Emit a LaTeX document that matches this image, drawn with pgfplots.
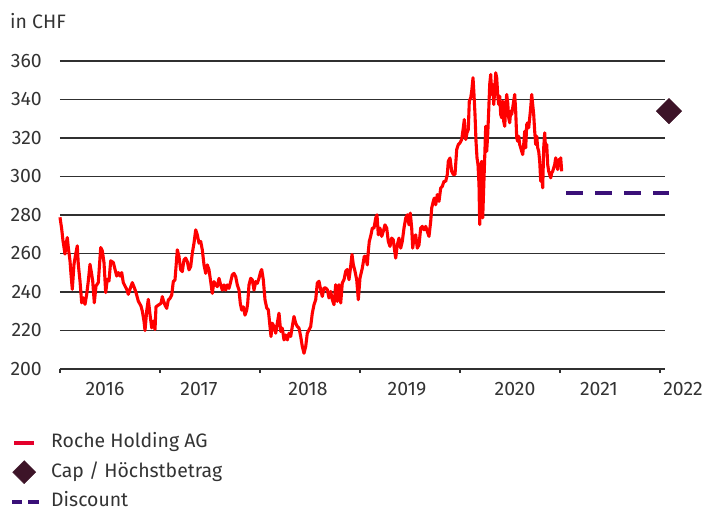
\documentclass[border=0pt]{standalone}
\usepackage{pgfplots}
\pgfplotsset{compat=1.18}
\usepackage{fontspec}
\setmainfont{Fira Sans}
\definecolor{txt}{HTML}{333333}
\definecolor{gridc}{HTML}{303030}
\definecolor{roche}{HTML}{FF0000}
\definecolor{rochelegend}{HTML}{E4002B}
\definecolor{capc}{HTML}{3D1428}
\definecolor{disc}{HTML}{3A1078}
\begin{document}
\begin{tikzpicture}
\useasboundingbox (-60bp,-144bp) rectangle (646bp,369bp);
\begin{axis}[
  at={(0,0)}, anchor=south west,
  scale only axis, width=605bp, height=308bp,
  xmin=2016, xmax=2022.05, ymin=200, ymax=360,
  clip=false,
  font=\fontsize{19.5}{22}\selectfont\color{txt},
  /pgf/number format/assume math mode=true,
  axis x line*=bottom, axis y line*=left,
  y axis line style={draw=none},
  x axis line style={draw=gridc, line width=1.1bp},
  ytick={200,220,...,360},
  ymajorgrids=true,
  grid style={draw=gridc, line width=1.1bp},
  ytick style={draw=none},
  yticklabel style={inner sep=0pt, xshift=-18bp, anchor=east},
  xtick={2016.45,2017.39,2018.48,2019.47,2020.55,2021.39},
  xticklabels={2016,2017,2018,2019,2020,2021},
  xticklabel style={inner sep=0pt, yshift=-13bp, anchor=north},
  tick align=outside,
  major tick length=0bp,
  extra x ticks={2016,2017,2018,2019,2020,2021,2022},
  extra x tick labels={},
  extra x tick style={major tick length=4bp, tick style={draw=gridc, line width=1.1bp}, grid=none},
  legend style={at={(-0.0826,-0.212)}, anchor=north west, draw=none, fill=none, inner sep=0pt,
    row sep=10bp, font=\fontsize{19.5}{22}\selectfont\color{txt},
    nodes={inner sep=0pt, text height=13bp, text depth=3bp},
    /tikz/every odd column/.append style={column sep=10bp}},
  legend cell align=left,
]
\addplot[roche, line width=3.1bp, line join=round,
  legend image code/.code={\path[draw=none,fill=none] (0bp,-8bp) rectangle (27bp,8bp); \draw[rochelegend, line width=4bp] (2bp,0bp) -- (22bp,0bp);}]
coordinates {
(2016.000,278.8) (2016.017,272.7) (2016.030,266.6) (2016.050,259.7) (2016.060,264.9) (2016.073,268.3)
(2016.083,263.1) (2016.100,256.2) (2016.110,249.2) (2016.123,241.4) (2016.140,254.4) (2016.157,259.7)
(2016.173,264.0) (2016.183,254.4) (2016.200,245.7) (2016.217,234.4) (2016.233,237.0) (2016.250,233.6)
(2016.267,238.8) (2016.283,245.7) (2016.300,254.4) (2016.317,249.2) (2016.327,245.7) (2016.343,234.4)
(2016.360,243.1) (2016.383,244.9) (2016.407,263.1) (2016.423,261.4) (2016.440,255.3) (2016.457,239.7)
(2016.473,246.6) (2016.490,245.7) (2016.507,256.2) (2016.533,255.3) (2016.550,251.8) (2016.567,248.3)
(2016.583,250.1) (2016.600,248.3) (2016.617,250.1) (2016.633,244.9) (2016.650,243.1) (2016.667,241.4)
(2016.683,238.8) (2016.700,241.4) (2016.723,244.9) (2016.743,242.3) (2016.760,239.7) (2016.783,235.3)
(2016.810,232.7) (2016.823,230.1) (2016.840,224.9) (2016.850,220.0) (2016.867,230.1) (2016.883,236.2)
(2016.900,228.4) (2016.917,221.4) (2016.933,224.9) (2016.950,220.5) (2016.960,232.3) (2016.983,233.2)
(2017.010,234.1) (2017.023,237.6) (2017.033,235.8) (2017.050,233.2) (2017.067,231.5) (2017.083,235.8)
(2017.100,236.7) (2017.117,238.4) (2017.133,245.4) (2017.150,246.3) (2017.163,255.0) (2017.173,261.9)
(2017.190,258.4) (2017.207,251.5) (2017.223,250.6) (2017.240,256.7) (2017.257,257.6) (2017.273,255.8)
(2017.290,251.5) (2017.307,253.2) (2017.323,260.2) (2017.340,265.4) (2017.357,272.3) (2017.373,269.7)
(2017.390,265.4) (2017.407,266.3) (2017.423,261.9) (2017.440,254.1) (2017.457,249.7) (2017.473,254.1)
(2017.490,251.5) (2017.507,245.4) (2017.523,239.3) (2017.540,245.4) (2017.557,243.7) (2017.573,242.8)
(2017.590,247.1) (2017.607,243.7) (2017.623,241.0) (2017.640,243.7) (2017.657,241.0) (2017.673,243.7)
(2017.690,241.9) (2017.707,245.4) (2017.723,248.9) (2017.740,249.7) (2017.757,248.0) (2017.773,243.7)
(2017.790,241.0) (2017.803,234.1) (2017.817,230.6) (2017.833,232.3) (2017.850,228.0) (2017.867,230.6)
(2017.877,234.1) (2017.890,243.7) (2017.907,247.1) (2017.923,246.3) (2017.940,241.0) (2017.957,245.4)
(2017.973,244.5) (2017.990,247.1) (2018.007,250.6) (2018.017,251.7) (2018.033,246.4) (2018.050,236.0)
(2018.067,231.7) (2018.083,230.8) (2018.100,222.1) (2018.110,216.9) (2018.123,223.8) (2018.140,222.1)
(2018.157,218.6) (2018.173,223.8) (2018.190,229.0) (2018.207,219.5) (2018.223,221.2) (2018.240,215.1)
(2018.257,217.7) (2018.273,215.1) (2018.290,218.6) (2018.307,216.9) (2018.323,222.1) (2018.340,227.3)
(2018.357,223.8) (2018.373,222.1) (2018.390,221.2) (2018.407,216.9) (2018.423,211.7) (2018.440,208.2)
(2018.457,211.7) (2018.473,218.6) (2018.490,220.3) (2018.507,222.1) (2018.523,229.0) (2018.540,233.4)
(2018.557,236.0) (2018.573,244.7) (2018.590,245.6) (2018.607,241.2) (2018.623,237.7) (2018.640,242.1)
(2018.657,242.1) (2018.673,241.2) (2018.690,236.9) (2018.707,240.3) (2018.723,236.0) (2018.740,233.4)
(2018.757,243.8) (2018.773,235.1) (2018.790,243.8) (2018.807,234.3) (2018.823,244.7) (2018.840,246.4)
(2018.857,250.8) (2018.873,251.7) (2018.890,246.4) (2018.907,253.4) (2018.920,259.5) (2018.933,254.3)
(2018.950,250.8) (2018.967,246.4) (2018.983,236.0) (2019.000,247.3) (2019.023,252.4) (2019.043,258.6)
(2019.057,258.5) (2019.073,254.1) (2019.083,261.1) (2019.093,266.3) (2019.110,269.7) (2019.123,273.2)
(2019.140,273.2) (2019.157,278.4) (2019.170,280.1) (2019.183,269.7) (2019.200,273.2) (2019.217,268.9)
(2019.233,271.5) (2019.250,274.9) (2019.267,273.2) (2019.283,266.3) (2019.300,263.7) (2019.317,268.0)
(2019.333,267.1) (2019.343,262.8) (2019.357,257.6) (2019.373,264.5) (2019.390,268.0) (2019.407,262.8)
(2019.423,266.3) (2019.440,273.2) (2019.457,278.4) (2019.473,280.1) (2019.490,274.9) (2019.503,281.0)
(2019.517,273.2) (2019.527,262.8) (2019.540,268.0) (2019.557,269.7) (2019.573,262.8) (2019.590,264.5)
(2019.607,273.2) (2019.623,274.1) (2019.640,272.3) (2019.657,274.1) (2019.673,271.5) (2019.690,268.9)
(2019.707,276.7) (2019.717,283.6) (2019.733,287.1) (2019.743,288.8) (2019.757,285.3) (2019.773,290.6)
(2019.790,287.1) (2019.807,294.0) (2019.823,294.9) (2019.840,297.5) (2019.857,297.5) (2019.873,301.0)
(2019.883,307.9) (2019.900,309.6) (2019.917,302.7) (2019.933,301.0) (2019.950,301.0) (2019.967,314.0)
(2019.983,316.6) (2020.000,317.5) (2020.017,319.2) (2020.033,325.3) (2020.043,329.6) (2020.057,319.2)
(2020.070,322.7) (2020.083,324.4) (2020.093,339.1) (2020.107,340.9) (2020.117,344.3) (2020.130,351.3)
(2020.140,342.6) (2020.150,332.2) (2020.160,318.3) (2020.170,309.7) (2020.180,306.2) (2020.190,295.8)
(2020.197,275.0) (2020.203,288.9) (2020.210,306.2) (2020.217,307.9) (2020.227,278.5) (2020.237,294.1)
(2020.247,309.7) (2020.257,326.1) (2020.267,313.1) (2020.277,321.8) (2020.287,333.9) (2020.297,347.8)
(2020.307,353.0) (2020.317,342.6) (2020.327,347.8) (2020.337,337.4) (2020.347,344.3) (2020.357,353.9)
(2020.367,351.3) (2020.377,342.6) (2020.387,337.4) (2020.397,341.7) (2020.407,332.2) (2020.417,330.5)
(2020.427,339.1) (2020.437,328.7) (2020.447,326.1) (2020.457,335.7) (2020.467,342.6) (2020.477,338.3)
(2020.487,330.5) (2020.497,327.9) (2020.507,333.9) (2020.517,332.2) (2020.527,335.7) (2020.537,339.1)
(2020.547,342.6) (2020.557,333.9) (2020.567,320.1) (2020.577,318.3) (2020.587,320.9) (2020.597,316.6)
(2020.607,314.9) (2020.617,313.1) (2020.627,311.4) (2020.637,316.6) (2020.647,323.5) (2020.657,314.9)
(2020.667,327.0) (2020.677,327.9) (2020.687,325.3) (2020.697,330.5) (2020.707,335.7) (2020.717,342.6)
(2020.727,337.4) (2020.737,332.2) (2020.747,323.5) (2020.757,316.6) (2020.767,320.9) (2020.777,314.9)
(2020.787,313.1) (2020.797,307.9) (2020.807,297.5) (2020.817,301.0) (2020.827,294.1) (2020.837,314.9)
(2020.847,322.7) (2020.857,313.1) (2020.867,316.6) (2020.877,306.2) (2020.887,302.7) (2020.897,301.0)
(2020.907,299.3) (2020.917,301.9) (2020.927,302.7) (2020.937,304.5) (2020.947,306.2) (2020.957,309.7)
(2020.967,306.2) (2020.977,303.6) (2020.987,308.8) (2020.997,306.2) (2021.007,309.7) (2021.017,302.7)
};
\addlegendentry{Roche Holding AG}
\addplot[only marks, mark=square*, mark size=9bp, mark options={rotate=45, fill=capc, draw=capc},
  legend image code/.code={\path[draw=none,fill=none] (0bp,-8bp) rectangle (27bp,8bp); \fill[capc] (12bp,-11.5bp) -- (23.5bp,0bp) -- (12bp,11.5bp) -- (0.5bp,0bp) -- cycle;}]
coordinates {(2022.09,334)};
\addlegendentry{Cap / Höchstbetrag}
\addplot[disc, line width=4.5bp, dash pattern=on 17bp off 12bp,
  legend image code/.code={\path[draw=none,fill=none] (0bp,-8bp) rectangle (27bp,8bp); \draw[disc, line width=4bp, solid] (0bp,0bp) -- (10bp,0bp) (16bp,0bp) -- (27bp,0bp);}]
coordinates {(2021.06,291.5) (2022.09,291.5)};
\addlegendentry{Discount}
\node[anchor=west, inner sep=0pt, font=\fontsize{19.5}{22}\selectfont\color{txt}] at (axis description cs:-0.0826,1.13) {in CHF};
\node[anchor=north, inner sep=0pt, yshift=-13bp, font=\fontsize{19.5}{22}\selectfont\color{txt}] at (axis cs:2022.23,200) {2022};
\end{axis}
\end{tikzpicture}
\end{document}
